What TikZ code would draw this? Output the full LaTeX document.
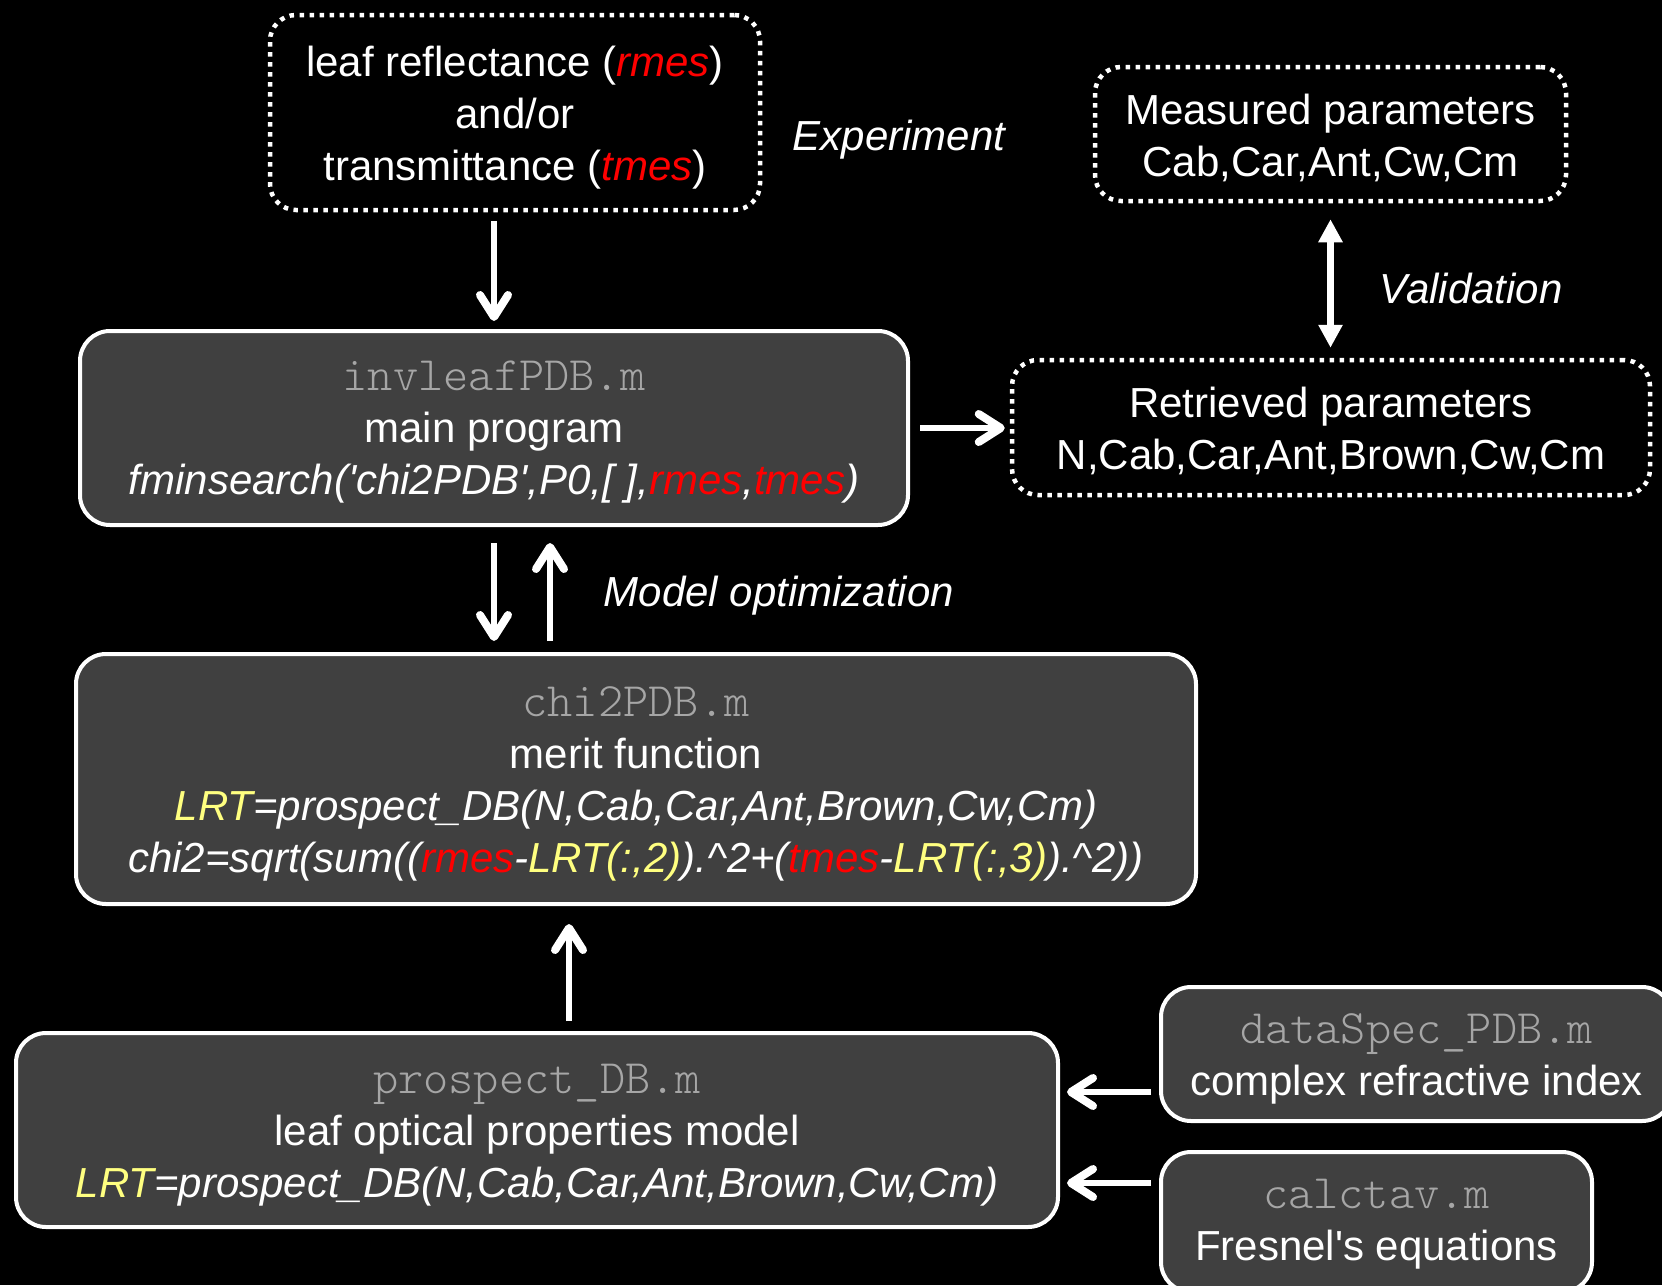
\documentclass[tikz,border=0pt]{standalone}
\usepackage{fontspec}
\setmainfont{Liberation Sans}
\setmonofont[Scale=1.143]{lmmonolt10-regular.otf}
\usetikzlibrary{arrows.meta,calc}
\definecolor{boxfill}{HTML}{404040}
\definecolor{monogray}{HTML}{A6A6A6}
\definecolor{lyel}{HTML}{FFFF80}
\definecolor{myred}{HTML}{FF0000}
\newcommand{\rd}[1]{\textcolor{myred}{#1}}
\newcommand{\yl}[1]{\textcolor{lyel}{#1}}
\newcommand{\fn}[1]{{\ttfamily\color{monogray}#1}}
\begin{document}
\begin{tikzpicture}[x=1pt,y=-1pt,
  every node/.style={text=white, font=\fontsize{42}{52}\selectfont, align=center, inner sep=0pt},
  solidbox/.style={draw=white, line width=4pt, fill=boxfill, rounded corners=30pt},
  dotbox/.style={draw=white, line width=4.5pt, dash pattern=on 4.5pt off 5.5pt, rounded corners=26pt},
  arr/.style={draw=white, line width=6pt, -{Straight Barb[length=22pt,width=28pt,line width=8pt,round]}},
  darr/.style={draw=white, line width=6.5pt, {Triangle[length=23pt,width=23pt]}-{Triangle[length=23pt,width=23pt]}},
  lbl/.style={font=\fontsize{42}{52}\selectfont\itshape}
]
\fill[black] (0,0) rectangle (1662,1285);
\useasboundingbox (0,0) rectangle (1662,1285);

\node[dotbox, minimum width=490pt, minimum height=195pt] (top) at (515,112.5) {};
\node (topt) at ($(top.center)+(0,5)$)
  {leaf reflectance ({\itshape\rd{rmes}})\\and/or\\transmittance ({\itshape\rd{tmes}})};
\node[dotbox, minimum width=471pt, minimum height=134pt] (meas) at (1330.5,134) {};
\node (meast) at ($(meas.center)+(0,3.5)$) {Measured parameters\\Cab,Car,Ant,Cw,Cm};
\node[dotbox, minimum width=638pt, minimum height=135pt] (ret) at (1331,427.5) {};
\node (rett) at ($(ret.center)+(0,3.5)$) {Retrieved parameters\\N,Cab,Car,Ant,Brown,Cw,Cm};
\node[solidbox, minimum width=828pt, minimum height=194pt] (inv) at (494,428) {};
\node (invt) at ($(inv.center)+(0,4.5)$)
  {\fn{invleafPDB.m}\\main program\\{\itshape fminsearch(\textquotesingle chi2PDB\textquotesingle,P0,[ ],\rd{rmes},\rd{tmes})}};
\node[solidbox, minimum width=1120pt, minimum height=250pt] (chi) at (636,779) {};
\node (chit) at ($(chi.center)+(0,4.5)$)
  {\fn{chi2PDB.m}\\merit function\\{\itshape\yl{LRT}=prospect\_DB(N,Cab,Car,Ant,Brown,Cw,Cm)}\\{\itshape chi2=sqrt(sum((\rd{rmes}-\yl{LRT(:,2)}).\textasciicircum 2+(\rd{tmes}-\yl{LRT(:,3)}).\textasciicircum 2))}};
\node[solidbox, minimum width=1042pt, minimum height=194pt] (pro) at (537,1130) {};
\node (prot) at ($(pro.center)+(0,5.5)$)
  {\fn{prospect\_DB.m}\\leaf optical properties model\\{\itshape\yl{LRT}=prospect\_DB(N,Cab,Car,Ant,Brown,Cw,Cm)}};
\node[solidbox, minimum width=511pt, minimum height=134pt] (ds) at (1416.5,1054) {};
\node (dst) at ($(ds.center)+(0,5)$) {\fn{dataSpec\_PDB.m}\\complex refractive index};
\node[solidbox, minimum width=431pt, minimum height=140pt] (ct) at (1376.5,1222) {};
\node (ctt) at ($(ct.center)+(0,2)$) {\fn{calctav.m}\\Fresnel\textquotesingle s equations};

\node[lbl] (lexp) at (899,140) {Experiment};
\node[lbl] (lval) at (1471,288) {Validation};
\node[lbl] (lopt) at (779,596) {Model optimization};

\draw[arr, shorten <=9pt, shorten >=8pt] (top.south -| inv.north) -- (inv.north);
\draw[arr, shorten <=10pt, shorten >=5pt] (inv.east) -- (inv.east -| ret.west);
\draw[darr, shorten <=16pt, shorten >=10pt] (meas.south) -- (meas.south |- ret.north);
\draw[arr, shorten <=16pt, shorten >=11pt] (inv.south) -- (inv.south |- chi.north);
\coordinate (upA) at ($(inv.south)+(56,0)$);
\draw[arr, shorten <=11pt, shorten >=16pt] (upA |- chi.north) -- (upA);
\coordinate (upB) at ($(pro.north)+(32,0)$);
\draw[arr, shorten <=10pt, shorten >=18pt] (upB) -- (upB |- chi.south);
\coordinate (dsA) at ($(ds.west)+(0,38)$);
\draw[arr, shorten <=8pt, shorten >=7pt] (dsA) -- (dsA -| pro.east);
\coordinate (ctA) at ($(ct.west)+(0,-39)$);
\draw[arr, shorten <=8pt, shorten >=7pt] (ctA) -- (ctA -| pro.east);
\end{tikzpicture}
\end{document}
